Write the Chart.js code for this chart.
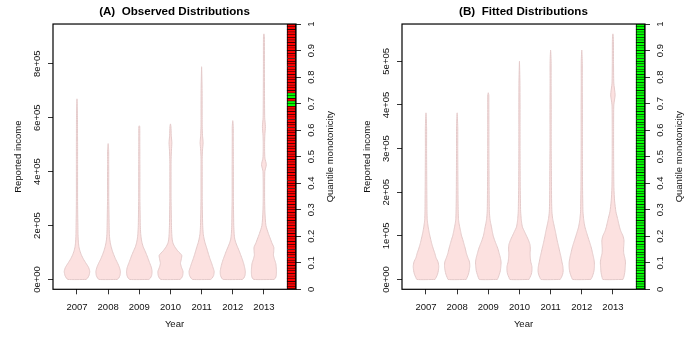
<!DOCTYPE html>
<html><head><meta charset="utf-8">
<script src="https://cdn.jsdelivr.net/npm/chart.js@4/dist/chart.umd.min.js"></script>
<style>
html,body{margin:0;padding:0;background:#fff;}
#wrap{position:relative;width:698px;height:349px;overflow:hidden;}
.p{position:absolute;top:0;width:349px;height:349px;}
</style></head><body>
<div id="wrap">
<div class="p" style="left:0"><canvas id="cA" width="349" height="349"></canvas></div>
<div class="p" style="left:349px"><canvas id="cB" width="349" height="349"></canvas></div>
</div>
<script>
// ---------------- DATA ----------------
const years = ["2007","2008","2009","2010","2011","2012","2013"];
const titleA = "(A)  Observed Distributions";
const titleB = "(B)  Fitted Distributions";
const xTitle = "Year";
const yTitle = "Reported income";
const qTitle = "Quantile monotonicity";

const incomeTicksA = [0, 200000, 400000, 600000, 800000];
const incomeTickLabelsA = ["0e+00","2e+05","4e+05","6e+05","8e+05"];
const incomeTicksB = [0, 100000, 200000, 300000, 400000, 500000];
const incomeTickLabelsB = ["0e+00","1e+05","2e+05","3e+05","4e+05","5e+05"];
const quantileTicks = [0,0.1,0.2,0.3,0.4,0.5,0.6,0.7,0.8,0.9,1];
const quantileTickLabels = ["0","0.1","0.2","0.3","0.4","0.5","0.6","0.7","0.8","0.9","1"];

// maximum reported income per year (top of each violin)
const maxIncomeA = [670000, 504000, 570000, 577000, 789000, 589000, 911000];
const maxIncomeB = [382000, 382000, 428000, 500000, 526000, 526000, 563000];

// income levels at which the violin density (relative, peak ~12.7) was read
const levelsA = [0,5000,15000,30000,45000,60000,75000,90000,105000,120000,135000,150000,170000,200000,250000,300000,400000,426000,450000,480000,507000,535000,567000,600000,700000,800000,900000];
const densA2007 = [9,10.5,12,12.7,11.5,9,6.5,4.5,3,2,1.5,1.2,1,0.9,0.7,0.6,0.6,0.6,0.6,0.6,0.6,0.55,0.55,0.5,0.45,0.4,0.4];
const densA2008 = [9,10.5,11.8,12.2,11.2,9.5,7.5,5.8,4.3,3.1,2.2,1.6,1.2,1,0.8,0.6,0.6,0.55,0.55,0.5,0.5,0.5,0.5,0.5,0.5,0.5,0.5];
const densA2009 = [9.5,11,12.3,12.7,12,10.5,9,7.5,5.8,4,2.8,2,1.4,1,0.8,0.6,0.6,0.6,0.55,0.55,0.5,0.5,0.45,0.45,0.45,0.45,0.45];
const densA2010 = [9.5,11,12.2,12.5,11,10,10.8,11.2,7.5,4.5,2.5,1.7,1.3,1,0.8,0.6,0.6,0.6,0.7,1.0,1.4,0.8,0.5,0.5,0.5,0.5,0.5];
const densA2011 = [9,10.5,12,12.5,11.3,10,8.5,7.2,6,4.8,3.5,2.5,1.6,1.1,0.8,0.6,0.6,0.6,0.6,0.9,1.5,0.9,0.6,0.55,0.5,0.45,0.4];
const densA2012 = [9.5,11,12.2,12.5,11.8,10.8,9.5,8,6.5,4.8,3.2,2,1.4,1,0.8,0.6,0.6,0.6,0.55,0.55,0.5,0.5,0.5,0.45,0.45,0.45,0.45];
const densA2013 = [10,11.5,12.3,12.5,12.3,11.8,10.5,9.5,9.8,9.8,8,6.5,4.5,2,1,0.7,0.9,2.4,1.0,0.7,0.7,0.9,1.5,0.8,0.6,0.5,0.45];

const levelsB = [0,5000,12000,20000,30000,40000,50000,60000,70000,80000,90000,100000,110000,120000,130000,140000,155000,180000,210000,250000,300000,350000,400000,423000,450000,500000,550000];
const densB2007 = [9,10.2,11.5,12.3,12.7,12,10,8.8,7.3,6,4.9,3.9,3,2.2,1.6,1.2,1,0.9,0.8,0.7,0.6,0.6,0.5,0.5,0.5,0.5,0.5];
const densB2008 = [9,10,11.2,12,12.6,12.3,10.7,9.2,8.2,7,5.8,4.4,3.5,2.6,1.8,1.3,1.1,0.9,0.8,0.7,0.6,0.6,0.5,0.5,0.5,0.5,0.5];
const densB2009 = [9,10,11,12,12.5,12.7,12,10.8,9.6,8,6.3,4.9,4,3.2,2.3,1.6,1.1,0.9,0.8,0.7,0.6,0.6,0.55,0.5,0.5,0.5,0.5];
const densB2010 = [9.5,10.5,11.8,12.4,12.4,11.3,10.8,10.6,10.8,10.5,9,7,5,3,2.2,1.7,1.2,1,0.8,0.7,0.6,0.6,0.6,0.55,0.5,0.5,0.5];
const densB2011 = [9.5,10.8,12,12.5,12.2,11.3,10.5,9.5,8.5,7.5,6.5,5.6,4.8,3.8,2.9,2,1.3,1,0.9,0.8,0.6,0.6,0.6,0.55,0.5,0.5,0.5];
const densB2012 = [9,10.2,11.3,12.2,12.6,12.5,11.8,10.8,9.8,8.6,7.2,5.8,4.5,3.2,2.4,1.8,1.2,1,0.8,0.7,0.6,0.6,0.6,0.55,0.5,0.5,0.5];
const densB2013 = [10,10.8,11.5,12,12.3,12.5,11.8,10.8,10.6,10.9,11,10,8,6.6,5.6,4.6,3,1.7,1,0.8,0.7,0.7,0.9,2.2,0.9,0.6,0.5];

// quantile monotonicity flags for quantile cells 0.00-0.01 ... 0.99-1.00 (1 = monotone)
const monoA = ["0000000000","0000000000","0000000000","0000000000","0000000000",
               "0000000000","0000000001","1011000000","0000000000","0000000000"].join("");
const monoB = ["1111111111","1111111111","1111111111","1111111111","1111111111",
               "1111111111","1111111111","1111111111","1111111111","1111111111"].join("");

// ---------------- CHART ----------------
const FONT = "'Liberation Sans', Arial, Helvetica, sans-serif";
Chart.defaults.font.family = FONT;
Chart.defaults.color = '#111';
const BASE = 9.5;
const VIOLIN_HALF = 0.41;   // x-units at peak density
const DENS_PEAK = 12.7;
const BAR_X = 7.885;

function violinPoints(center, levels, dens, maxVal) {
  const k = VIOLIN_HALF / DENS_PEAK;
  const right = [], left = [];
  for (let j = 0; j < levels.length && levels[j] < maxVal; j++) {
    right.push({x: center + dens[j] * k, y: levels[j]});
    left.push({x: center - dens[j] * k, y: levels[j]});
  }
  return [...right, {x: center, y: maxVal}, ...left.reverse(), right[0]];
}

const boxPlugin = {
  id: 'box',
  afterDatasetsDraw(chart) {
    const {ctx, chartArea: a} = chart;
    ctx.save();
    ctx.strokeStyle = '#000';
    ctx.lineWidth = 1.2;
    ctx.strokeRect(a.left, a.top, a.right - a.left, a.bottom - a.top);
    ctx.restore();
  }
};
const rightTitlePlugin = {
  id: 'rtitle',
  afterDraw(chart) {
    const {ctx, chartArea: a} = chart;
    ctx.save();
    ctx.translate(a.right + 34, (a.top + a.bottom) / 2);
    ctx.rotate(-Math.PI / 2);
    ctx.font = BASE + 'px ' + FONT;
    ctx.fillStyle = '#111';
    ctx.textAlign = 'center';
    ctx.textBaseline = 'middle';
    ctx.fillText(qTitle, 0, 0);
    ctx.restore();
  }
};

function makePanel(canvasId, title, densList, levels, maxes, ticks, tickLabels, mono) {
  const dataMax = Math.max(...maxes);
  const ext = dataMax * 0.04;
  const datasets = years.map((yr, i) => ({
    type: 'line',
    label: yr,
    data: violinPoints(i + 1, levels, densList[i], maxes[i]),
    xAxisID: 'x', yAxisID: 'y',
    borderColor: '#E4CACA',
    borderWidth: 1,
    backgroundColor: '#FCE1E0',
    fill: 'shape',
    pointRadius: 0,
    tension: 0.2
  }));
  const cells = [];
  const cellColors = [];
  for (let k = 0; k < mono.length; k++) {
    cells.push({x: BAR_X, y: [k / mono.length, (k + 1) / mono.length]});
    cellColors.push(mono[k] === '1' ? '#00FF00' : '#FF0000');
  }
  datasets.push({
    type: 'bar',
    label: 'monotonicity',
    data: cells,
    xAxisID: 'x', yAxisID: 'yq',
    backgroundColor: cellColors,
    borderColor: '#000',
    borderWidth: {top: 0.55, bottom: 0.55, left: 1, right: 1},
    borderSkipped: false,
    barThickness: 9
  });
  const tickFont = {family: FONT, size: BASE};
  return new Chart(document.getElementById(canvasId), {
    type: 'scatter',
    data: {datasets},
    plugins: [boxPlugin, rightTitlePlugin],
    options: {
      responsive: false,
      animation: false,
      events: [],
      layout: {padding: 0},
      plugins: {
        legend: {display: false},
        tooltip: {enabled: false},
        title: {display: true, text: title, color: '#000',
                font: {family: FONT, size: 11.6, weight: 'bold', lineHeight: 1.2},
                padding: {top: 5.1, bottom: 5.0}}
      },
      scales: {
        x: {
          type: 'linear', min: 0.23, max: 8.03, offset: false,
          afterBuildTicks: s => { s.ticks = years.map((_, i) => ({value: i + 1})); },
          ticks: {callback: (v, i) => years[i], font: tickFont, color: '#111', padding: 7, autoSkip: false, maxRotation: 0},
          grid: {offset: false, drawOnChartArea: false, drawTicks: true, tickLength: 5, color: '#333', lineWidth: 1},
          border: {display: false},
          title: {display: true, text: xTitle, font: tickFont, color: '#111', padding: {top: 0, bottom: 18.8}},
          afterFit: s => { s.height = 59.7; }
        },
        y: {
          type: 'linear', position: 'left', min: -ext, max: dataMax + ext,
          afterBuildTicks: s => { s.ticks = ticks.map(v => ({value: v})); },
          ticks: {callback: (v, i) => tickLabels[i], font: tickFont, color: '#111',
                  minRotation: 90, maxRotation: 90, crossAlign: 'center', padding: -2.5, autoSkip: false},
          grid: {drawOnChartArea: false, drawTicks: true, tickLength: 5, color: '#333', lineWidth: 1},
          border: {display: false},
          title: {display: true, text: yTitle, font: tickFont, color: '#111', padding: {top: 12.8, bottom: 0}},
          afterFit: s => { s.width = 53; }
        },
        yq: {
          type: 'linear', position: 'right', min: 0, max: 1,
          afterBuildTicks: s => { s.ticks = quantileTicks.map(v => ({value: v})); },
          ticks: {callback: (v, i) => quantileTickLabels[i], font: tickFont, color: '#111',
                  minRotation: 90, maxRotation: 90, crossAlign: 'center', padding: 4.1, autoSkip: false},
          grid: {drawOnChartArea: false, drawTicks: true, tickLength: 5, color: '#333', lineWidth: 1},
          border: {display: false},
          afterFit: s => { s.width = 53; }
        }
      }
    }
  });
}

makePanel('cA', titleA,
  [densA2007, densA2008, densA2009, densA2010, densA2011, densA2012, densA2013],
  levelsA, maxIncomeA, incomeTicksA, incomeTickLabelsA, monoA);
makePanel('cB', titleB,
  [densB2007, densB2008, densB2009, densB2010, densB2011, densB2012, densB2013],
  levelsB, maxIncomeB, incomeTicksB, incomeTickLabelsB, monoB);
</script>
</body></html>
